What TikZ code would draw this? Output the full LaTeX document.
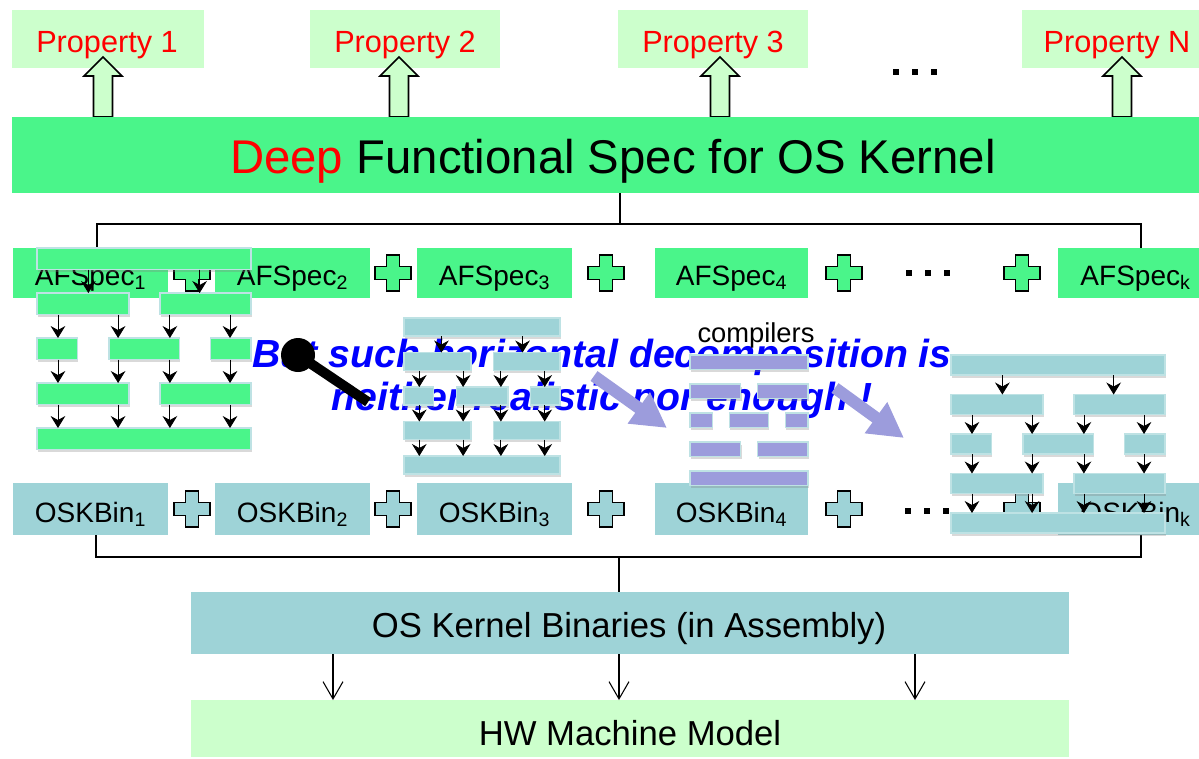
\documentclass[tikz,border=0pt]{standalone}
\usepackage{fontspec}
\setmainfont{Liberation Sans}
\usetikzlibrary{arrows.meta,shadows,fit}

\definecolor{specgreen}{RGB}{74,245,138}
\definecolor{propgreen}{RGB}{204,255,204}
\definecolor{binteal}{RGB}{158,211,215}
\definecolor{cmpurple}{RGB}{156,156,220}
\definecolor{baredge}{RGB}{190,226,228}
\definecolor{msgblue}{RGB}{0,0,255}

\tikzset{
  box/.style={inner sep=0pt, outer sep=0pt},
  propbox/.style={box, fill=propgreen},
  specbox/.style={box, fill=specgreen},
  binbox/.style={box, fill=binteal},
  lbl/.style={inner sep=0pt, outer sep=0pt, anchor=base},
  proptext/.style={lbl, text=red, font=\fontsize{23}{27}\selectfont},
  rowtext/.style={lbl, font=\fontsize{21}{25}\selectfont},
  titletext/.style={lbl, font=\fontsize{35.5}{40}\selectfont},
  bigtext/.style={lbl, font=\fontsize{26}{30}\selectfont},
  stackbar/.style={inner sep=0pt, outer sep=0pt, draw=baredge, line width=1.1pt,
    drop shadow={shadow xshift=0.6pt, shadow yshift=-2.2pt, opacity=0.3}},
  gbar/.style={stackbar, fill=specgreen},
  tbar/.style={stackbar, fill=binteal},
  pbar/.style={stackbar, fill=cmpurple},
  sarr/.style={line width=0.6pt, -{Stealth[length=9pt,width=11pt,inset=3pt]}},
  darr/.style={line width=0.8pt, -{Straight Barb[length=13pt,width=15pt]}},
  link/.style={line width=1.1pt},
  bigarr/.style={line width=9pt, draw=cmpurple, -{Triangle[length=26pt,width=27pt]}},
  plusmark/.pic={\draw[line width=1.4pt, fill=#1, line join=miter]
    (-6.5,-18) -- (6.5,-18) -- (6.5,-6.5) -- (18,-6.5) -- (18,6.5) -- (6.5,6.5) -- (6.5,18)
    -- (-6.5,18) -- (-6.5,6.5) -- (-18,6.5) -- (-18,-6.5) -- (-6.5,-6.5) -- cycle;},
  upblock/.pic={\draw[line width=1.2pt, fill=propgreen, line join=miter]
    (-9.5,0) -- (-9.5,-41) -- (-19,-41) -- (0,-60) -- (19,-41) -- (9.5,-41) -- (9.5,0) -- cycle;},
  dots3/.pic={\foreach \d in {-19,0,19} \fill (\d-2.6,-2.6) rectangle (\d+2.6,2.6);},
}

% one five-row block stack: prefix, style, left x, width, top y, row pitch, bar height
\newcommand{\stackbars}[7]{%
  \node[#2, fit={(#3,#5) ({#3+#4},{#5+#7})}] (#10) {};
  \node[#2, fit={(#3,{#5+#6}) ({#3+0.43*#4},{#5+#6+#7})}] (#11a) {};
  \node[#2, fit={({#3+0.574*#4},{#5+#6}) ({#3+#4},{#5+#6+#7})}] (#11b) {};
  \node[#2, fit={(#3,{#5+2*#6}) ({#3+0.19*#4},{#5+2*#6+#7})}] (#12a) {};
  \node[#2, fit={({#3+0.336*#4},{#5+2*#6}) ({#3+0.666*#4},{#5+2*#6+#7})}] (#12b) {};
  \node[#2, fit={({#3+0.81*#4},{#5+2*#6}) ({#3+#4},{#5+2*#6+#7})}] (#12c) {};
  \node[#2, fit={(#3,{#5+3*#6}) ({#3+0.43*#4},{#5+3*#6+#7})}] (#13a) {};
  \node[#2, fit={({#3+0.574*#4},{#5+3*#6}) ({#3+#4},{#5+3*#6+#7})}] (#13b) {};
  \node[#2, fit={(#3,{#5+4*#6}) ({#3+#4},{#5+4*#6+#7})}] (#14) {};
}
% the call arrows between the rows of a stack: prefix, left x, width
\newcommand{\stackarrows}[3]{%
  \coordinate (#1ta) at ({#2+0.24*#3},0);
  \coordinate (#1tb) at ({#2+0.76*#3},0);
  \coordinate (#1ca) at ({#2+0.098*#3},0);
  \coordinate (#1cb) at ({#2+0.379*#3},0);
  \coordinate (#1cc) at ({#2+0.621*#3},0);
  \coordinate (#1cd) at ({#2+0.902*#3},0);
  \draw[sarr] (#10.south -| #1ta) -- (#11a.north -| #1ta);
  \draw[sarr] (#10.south -| #1tb) -- (#11b.north -| #1tb);
  \draw[sarr] (#11a.south -| #1ca) -- (#12a.north -| #1ca);
  \draw[sarr] (#11a.south -| #1cb) -- (#12b.north -| #1cb);
  \draw[sarr] (#11b.south -| #1cc) -- (#12b.north -| #1cc);
  \draw[sarr] (#11b.south -| #1cd) -- (#12c.north -| #1cd);
  \draw[sarr] (#12a.south -| #1ca) -- (#13a.north -| #1ca);
  \draw[sarr] (#12b.south -| #1cb) -- (#13a.north -| #1cb);
  \draw[sarr] (#12b.south -| #1cc) -- (#13b.north -| #1cc);
  \draw[sarr] (#12c.south -| #1cd) -- (#13b.north -| #1cd);
  \draw[sarr] (#13a.south -| #1ca) -- (#14.north -| #1ca);
  \draw[sarr] (#13a.south -| #1cb) -- (#14.north -| #1cb);
  \draw[sarr] (#13b.south -| #1cc) -- (#14.north -| #1cc);
  \draw[sarr] (#13b.south -| #1cd) -- (#14.north -| #1cd);
}

\begin{document}
\begin{tikzpicture}[x=0.75pt,y=-0.75pt]
\useasboundingbox (0,0) rectangle (1199,758);
\clip (0,0) rectangle (1199,758);

% properties on top
\node[propbox, fit={(12,10) (204,68)}]    (p1) {};
\node[propbox, fit={(310,10) (500,68)}]   (p2) {};
\node[propbox, fit={(618,10) (808,68)}]   (p3) {};
\node[propbox, fit={(1022,10) (1212,68)}] (pn) {};
\node[proptext] (p1t) at (107,52)  {Property 1};
\node[proptext] (p2t) at (405,52)  {Property 2};
\node[proptext] (p3t) at (713,52)  {Property 3};
\node[proptext] (pnt) at (1117,52) {Property N};
\pic at (103,117) {upblock};
\pic at (399,117) {upblock};
\pic at (720,117) {upblock};
\pic at (1122,117) {upblock};
\pic at (915,72) {dots3};

% the deep functional spec
\node[specbox, fit={(12,117) (1212,193)}] (spec) {};
\node[titletext] (spect) at (613,173) {\textcolor{red}{Deep} Functional Spec for OS Kernel};

% abstract spec row
\node[specbox, fit={(13,248) (168,298)}]    (af1) {};
\node[specbox, fit={(215,248) (370,298)}]   (af2) {};
\node[specbox, fit={(417,248) (572,298)}]   (af3) {};
\node[specbox, fit={(655,248) (808,298)}]   (af4) {};
\node[specbox, fit={(1058,248) (1213,298)}] (afk) {};
\node[rowtext] (af1t) at (90.5,285)  {AFSpec\textsubscript{1}};
\node[rowtext] (af2t) at (292.5,285) {AFSpec\textsubscript{2}};
\node[rowtext] (af3t) at (494.5,285) {AFSpec\textsubscript{3}};
\node[rowtext] (af4t) at (731.5,285) {AFSpec\textsubscript{4}};
\node[rowtext] (afkt) at (1135.5,285) {AFSpec\textsubscript{k}};
\pic at (192,273) {plusmark=specgreen};
\pic at (393,273) {plusmark=specgreen};
\pic at (606,273) {plusmark=specgreen};
\pic at (844,273) {plusmark=specgreen};
\pic at (1022,273) {plusmark=specgreen};
\pic at (928,273) {dots3};

\coordinate (tj) at (620,224);
\coordinate (tl) at (97,224);
\coordinate (tr) at (1141,224);
\draw[link] (spec.south -| tj) -- (tj);
\draw[link] (af1.north -| tl) -- (tl) -- (tr) -- (afk.north -| tr);

% binary row
\node[binbox, fit={(13,483) (168,535)}]    (ob1) {};
\node[binbox, fit={(215,483) (370,535)}]   (ob2) {};
\node[binbox, fit={(417,483) (572,535)}]   (ob3) {};
\node[binbox, fit={(655,483) (808,535)}]   (ob4) {};
\node[binbox, fit={(1058,483) (1213,535)}] (obk) {};
\node[rowtext] (ob1t) at (90.5,522)  {OSKBin\textsubscript{1}};
\node[rowtext] (ob2t) at (292.5,522) {OSKBin\textsubscript{2}};
\node[rowtext] (ob3t) at (494.5,522) {OSKBin\textsubscript{3}};
\node[rowtext] (ob4t) at (731.5,522) {OSKBin\textsubscript{4}};
\node[rowtext] (obkt) at (1135.5,522) {OSKBin\textsubscript{k}};
\pic at (192,509) {plusmark=binteal};
\pic at (393,509) {plusmark=binteal};
\pic at (606,509) {plusmark=binteal};
\pic at (844,509) {plusmark=binteal};
\pic at (1022,509) {plusmark=binteal};
\pic at (927,511) {dots3};

\coordinate (bj) at (619,557);
\coordinate (bl) at (96,557);
\coordinate (br) at (1141,557);
\draw[link] (ob1.south -| bl) -- (bl) -- (br) -- (obk.south -| br);

% whole kernel and the machine
\node[binbox, fit={(191,592) (1069,654)}]   (osk) {};
\node[propbox, fit={(191,700) (1069,757)}]  (hw) {};
\node[bigtext] (oskt) at (629,637) {OS Kernel Binaries (in Assembly)};
\node[bigtext] (hwt)  at (630,745) {HW Machine Model};
\draw[link] (bj) -- (osk.north -| bj);
\coordinate (da) at (333,0);
\coordinate (db) at (619,0);
\coordinate (dc) at (915,0);
\draw[darr] (osk.south -| da) -- (hw.north -| da);
\draw[darr] (osk.south -| db) -- (hw.north -| db);
\draw[darr] (osk.south -| dc) -- (hw.north -| dc);

% the remark
\node[font=\fontsize{29.4}{32.5}\selectfont\bfseries\itshape, text=msgblue, align=center]
  (msg) at (602,379) {But such horizontal decomposition is\\neither realistic nor enough !};

% pin
\node[circle, fill=black, minimum size=25.5pt, inner sep=0pt] (pinhead) at (298,355) {};
\coordinate (pintip) at (368,402);
\draw[line width=7.5pt] (pinhead.center) -- (pintip);

% block stacks
\stackbars{g}{gbar}{37}{214}{248}{45}{21.5}
\stackarrows{g}{37}{214}
\stackbars{c}{tbar}{404}{156}{318}{34.5}{18}
\stackarrows{c}{404}{156}
\node[font=\fontsize{20.5}{24}\selectfont] (comp) at (756,335) {compilers};
\stackbars{m}{pbar}{690}{118}{355}{29}{14.5}
\stackbars{r}{tbar}{951}{214}{355}{39.5}{20}
\stackarrows{r}{951}{214}

% compile steps
\coordinate (qa) at (594,376);
\coordinate (qb) at (667,428);
\coordinate (qc) at (835,388);
\coordinate (qd) at (904,438);
\draw[bigarr] (qa) -- (qb);
\draw[bigarr] (qc) -- (qd);
\end{tikzpicture}
\end{document}
